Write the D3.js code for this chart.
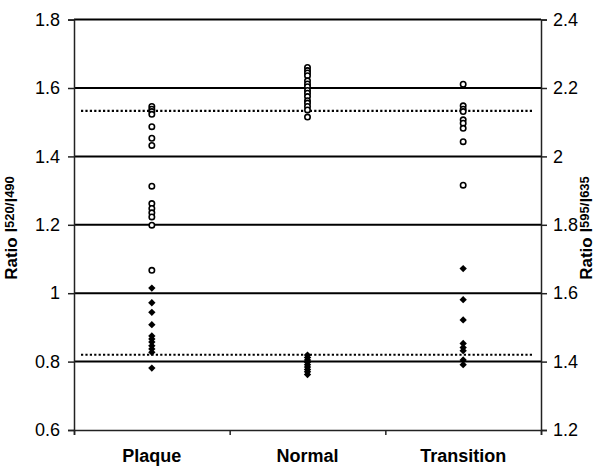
<!DOCTYPE html>
<html>
<head>
<meta charset="utf-8">
<script src="https://cdn.jsdelivr.net/npm/d3@7"></script>
<style>
  body { margin: 0; background: #fff; }
  svg { font-family: "Liberation Sans", Arial, sans-serif; }
</style>
</head>
<body>
<div id="chart"></div>
<script>
const categories = ['Plaque', 'Normal', 'Transition']
const leftTicks = [0.6, 0.8, 1, 1.2, 1.4, 1.6, 1.8]
const rightTicks = [1.2, 1.4, 1.6, 1.8, 2, 2.2, 2.4]
const gridValues = [0.8, 1, 1.2, 1.4, 1.6, 1.8]
// dotted reference lines, left axis units
const refLines = [1.533, 0.82]

// open circles: Ratio I520/I490 (left axis)
const plaqueCircles = [1.546, 1.538, 1.531, 1.523, 1.487, 1.453, 1.432, 1.313, 1.262, 1.248, 1.235, 1.223, 1.199, 1.067]
const normalCircles = [1.660, 1.651, 1.644, 1.636, 1.621, 1.612, 1.604, 1.593, 1.585, 1.575, 1.563, 1.556, 1.546, 1.536, 1.515]
const transitionCircles = [1.611, 1.548, 1.538, 1.531, 1.507, 1.497, 1.482, 1.443, 1.316]

// filled diamonds: Ratio I595/I635 (right axis)
const plaqueDiamonds = [1.615, 1.572, 1.544, 1.508, 1.475, 1.466, 1.457, 1.446, 1.437, 1.427, 1.381]
const normalDiamonds = [1.419, 1.412, 1.405, 1.398, 1.391, 1.384, 1.377, 1.370, 1.362]
const transitionDiamonds = [1.672, 1.581, 1.522, 1.453, 1.441, 1.432, 1.405, 1.391]

const width = 604
const height = 468
const margin = { top: 19.6, right: 63, bottom: 38, left: 74 }

const svg = d3.select('#chart')
  .append('svg')
  .attr('width', width)
  .attr('height', height)

// scales
const x = d3.scaleLinear()
  .domain([0, categories.length])
  .range([margin.left, width - margin.right])

const yLeft = d3.scaleLinear()
  .domain([0.6, 1.8])
  .range([height - margin.bottom, margin.top])

const yRight = d3.scaleLinear()
  .domain([1.2, 2.4])
  .range([height - margin.bottom, margin.top])

// gridlines
svg.append('g')
  .selectAll('line')
  .data(gridValues)
  .enter()
  .append('line')
  .attr('x1', x(0))
  .attr('x2', x(3))
  .attr('y1', d => yLeft(d))
  .attr('y2', d => yLeft(d))
  .attr('stroke', '#000')
  .attr('stroke-width', 2)

// dotted lines
svg.append('g')
  .selectAll('line')
  .data(refLines)
  .enter()
  .append('line')
  .attr('x1', x(0) + 7)
  .attr('x2', x(3) - 7)
  .attr('y1', d => yLeft(d))
  .attr('y2', d => yLeft(d))
  .attr('stroke', '#000')
  .attr('stroke-width', 2.2)
  .attr('stroke-dasharray', '2.2,2.2')

// axes
const leftAxis = svg.append('g')
  .attr('transform', `translate(${x(0)}, 0)`)
  .call(d3.axisLeft(yLeft).tickValues(leftTicks).tickSize(6).tickPadding(8).tickFormat(d3.format('~g')))

const rightAxis = svg.append('g')
  .attr('transform', `translate(${x(3)}, 0)`)
  .call(d3.axisRight(yRight).tickValues(rightTicks).tickSize(6).tickPadding(6).tickFormat(d3.format('~g')))

const bottomAxis = svg.append('g')
  .attr('transform', `translate(0, ${yLeft(0.6)})`)
  .call(d3.axisBottom(x).tickValues([0, 1, 2, 3]).tickSize(5).tickFormat(''))

;[leftAxis, rightAxis, bottomAxis].forEach(g => {
  g.select('.domain').attr('stroke', '#222').attr('stroke-width', 1.5)
  g.selectAll('.tick line').attr('stroke', '#222').attr('stroke-width', 1.5)
  g.selectAll('.tick text')
    .attr('fill', '#000')
    .style('font-size', '18px')
    .style('font-family', '"Liberation Sans", Arial, sans-serif')
})

// category labels
svg.append('g')
  .selectAll('text')
  .data(categories)
  .enter()
  .append('text')
  .text(d => d)
  .attr('x', (d, i) => x(i + 0.5))
  .attr('y', 462)
  .attr('text-anchor', 'middle')
  .style('font-size', '18px')
  .style('font-weight', 'bold')

// axis titles
function title(tx, a, b) {
  const t = svg.append('text')
    .attr('transform', `translate(${tx}, 228) rotate(-90)`)
    .attr('text-anchor', 'middle')
    .style('font-size', '17px')
    .style('font-weight', 'bold')
  t.append('tspan').text('Ratio I')
  t.append('tspan').text(a + '/').style('font-size', '13px').attr('dy', -3)
  t.append('tspan').text('I').attr('dy', 3)
  t.append('tspan').text(b).style('font-size', '13px').attr('dy', -3)
}
title(17, '520', '490')
title(592, '595', '635')

// data points
const circleSets = [plaqueCircles, normalCircles, transitionCircles]
const diamondSets = [plaqueDiamonds, normalDiamonds, transitionDiamonds]

const diamond = d3.symbol().type(d3.symbolSquare).size(27)

diamondSets.forEach((vals, i) => {
  svg.append('g')
    .selectAll('path')
    .data(vals)
    .enter()
    .append('path')
    .attr('d', diamond)
    .attr('transform', d => `translate(${x(i + 0.5)}, ${yRight(d)}) rotate(45)`)
    .attr('fill', '#000')
})

circleSets.forEach((vals, i) => {
  svg.append('g')
    .selectAll('circle')
    .data(vals)
    .enter()
    .append('circle')
    .attr('cx', x(i + 0.5))
    .attr('cy', d => yLeft(d))
    .attr('r', 2.7)
    .attr('fill', '#fff')
    .attr('stroke', '#000')
    .attr('stroke-width', 1.6)
})
</script>
</body>
</html>
